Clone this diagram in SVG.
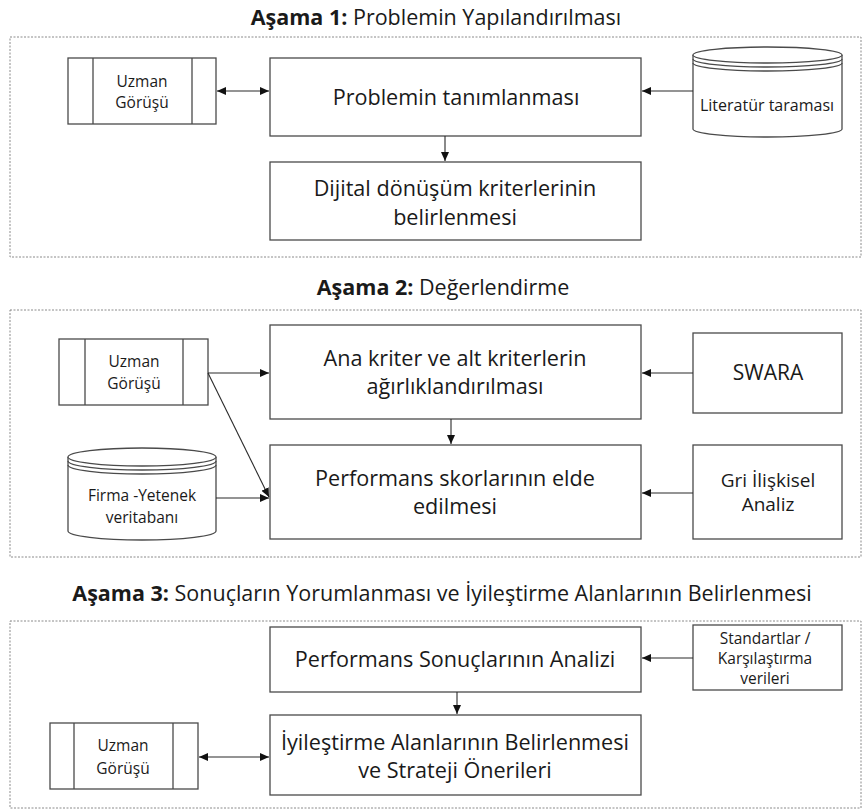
<svg xmlns="http://www.w3.org/2000/svg" width="863" height="810" viewBox="0 0 863 810">
<style>
text{font-family:"Open Sans","Noto Sans","DejaVu Sans",sans-serif;fill:#1a1a1a;text-anchor:middle}
.t{font-size:21.5px}
.b{font-weight:bold}
.m{font-size:21.6px}
.s{font-size:15.5px}
.s15{font-size:15.5px}
.box{fill:#fff;stroke:#4a4a4a;stroke-width:1.3}
.stage{fill:none;stroke:#8a8a8a;stroke-width:1;stroke-dasharray:2 1.5}
.ln{fill:none;stroke:#4a4a4a;stroke-width:1.3}
.c{fill:none;stroke:#2a2a2a;stroke-width:1.1}
</style>
<defs>
<marker id="ah" markerUnits="userSpaceOnUse" markerWidth="10" markerHeight="8" refX="9" refY="4" orient="auto-start-reverse">
<path d="M0,0 L9,4 L0,8 z" fill="#111"/>
</marker>
</defs>
<rect width="863" height="810" fill="#fff"/>

<g id="stage1">
<text class="t" x="436" y="25"><tspan class="b">Aşama 1:</tspan> Problemin Yapılandırılması</text>
<rect class="stage" x="10" y="37" width="851" height="220"/>
</g>
<g id="s1-uzman">
<rect class="box" x="68" y="58" width="148" height="66"/>
<line class="ln" x1="93" y1="58" x2="93" y2="124"/>
<line class="ln" x1="192" y1="58" x2="192" y2="124"/>
<text class="s" x="142" y="87">Uzman</text>
<text class="s" x="142" y="108">Görüşü</text>
</g>
<g id="s1-problem">
<rect class="box" x="270" y="58" width="371" height="78"/>
<text class="m" x="456" y="105">Problemin tanımlanması</text>
</g>
<g id="s1-literatur">
<path class="box" d="M693,55 L693,129 A74.5,8 0 0 0 842,129 L842,55"/>
<ellipse class="box" cx="767.5" cy="55" rx="74.5" ry="8"/>
<path class="ln" d="M693,59 A74.5,8 0 0 0 842,59"/>
<path class="ln" d="M693,63 A74.5,8 0 0 0 842,63"/>
<text class="s" x="767" y="111" style="font-size:16px">Literatür taraması</text>
</g>
<g id="s1-dijital">
<rect class="box" x="270" y="162" width="371" height="78"/>
<text class="m" x="455" y="196">Dijital dönüşüm kriterlerinin</text>
<text class="m" x="455" y="225">belirlenmesi</text>
</g>

<g id="stage2">
<text class="t" x="443" y="295"><tspan class="b">Aşama 2:</tspan> Değerlendirme</text>
<rect class="stage" x="10" y="310" width="851" height="247"/>
</g>
<g id="s2-uzman">
<rect class="box" x="59" y="339" width="149" height="66"/>
<line class="ln" x1="85" y1="339" x2="85" y2="405"/>
<line class="ln" x1="183" y1="339" x2="183" y2="405"/>
<text class="s" x="134" y="367">Uzman</text>
<text class="s" x="134" y="389">Görüşü</text>
</g>
<g id="s2-ana">
<rect class="box" x="270" y="325" width="371" height="94"/>
<text class="m" x="455" y="366">Ana kriter ve alt kriterlerin</text>
<text class="m" x="455" y="394">ağırlıklandırılması</text>
</g>
<g id="s2-swara">
<rect class="box" x="693" y="333" width="149" height="80"/>
<text class="m" x="768" y="380" style="font-size:21px">SWARA</text>
</g>
<g id="s2-performans">
<rect class="box" x="270" y="445" width="371" height="94"/>
<text class="m" x="455" y="486">Performans skorlarının elde</text>
<text class="m" x="455" y="514">edilmesi</text>
</g>
<g id="s2-gri">
<rect class="box" x="693" y="445" width="149" height="94"/>
<text class="m" x="768" y="487" style="font-size:19px">Gri İlişkisel</text>
<text class="m" x="768" y="511" style="font-size:19px">Analiz</text>
</g>
<g id="s2-firma">
<path class="box" d="M68,457 L68,531 A74,9 0 0 0 216,531 L216,457"/>
<ellipse class="box" cx="142" cy="457" rx="74" ry="9"/>
<path class="ln" d="M68,461 A74,9 0 0 0 216,461"/>
<path class="ln" d="M68,465 A74,9 0 0 0 216,465"/>
<text class="s15" x="142" y="501">Firma -Yetenek</text>
<text class="s15" x="142" y="523">veritabanı</text>
</g>

<g id="stage3">
<text class="t" x="442" y="601"><tspan class="b">Aşama 3:</tspan> Sonuçların Yorumlanması ve İyileştirme Alanlarının Belirlenmesi</text>
<rect class="stage" x="10" y="621" width="851" height="187"/>
</g>
<g id="s3-analiz">
<rect class="box" x="270" y="627" width="371" height="65"/>
<text class="m" x="455" y="667">Performans Sonuçlarının Analizi</text>
</g>
<g id="s3-standart">
<rect class="box" x="693" y="625" width="149" height="65"/>
<text class="s15" x="765" y="644">Standartlar /</text>
<text class="s15" x="765" y="664">Karşılaştırma</text>
<text class="s15" x="765" y="684">verileri</text>
</g>
<g id="s3-iyilestirme">
<rect class="box" x="270" y="715" width="371" height="80"/>
<text class="m" x="455" y="750">İyileştirme Alanlarının Belirlenmesi</text>
<text class="m" x="455" y="778">ve Strateji Önerileri</text>
</g>
<g id="s3-uzman">
<rect class="box" x="50" y="723" width="148" height="66"/>
<line class="ln" x1="74" y1="723" x2="74" y2="789"/>
<line class="ln" x1="173" y1="723" x2="173" y2="789"/>
<text class="s" x="123" y="751">Uzman</text>
<text class="s" x="123" y="774">Görüşü</text>
</g>

<g id="connectors">
<line class="c" x1="217" y1="91" x2="269" y2="91" marker-start="url(#ah)" marker-end="url(#ah)"/>
<line class="c" x1="693" y1="91" x2="642" y2="91" marker-end="url(#ah)"/>
<line class="c" x1="445" y1="136" x2="445" y2="161" marker-end="url(#ah)"/>
<line class="c" x1="208" y1="373" x2="269" y2="373" marker-end="url(#ah)"/>
<line class="c" x1="208" y1="373" x2="269" y2="497" marker-end="url(#ah)"/>
<line class="c" x1="693" y1="373" x2="642" y2="373" marker-end="url(#ah)"/>
<line class="c" x1="451" y1="419" x2="451" y2="444" marker-end="url(#ah)"/>
<line class="c" x1="693" y1="493" x2="642" y2="493" marker-end="url(#ah)"/>
<line class="c" x1="216" y1="498" x2="269" y2="498" marker-end="url(#ah)"/>
<line class="c" x1="693" y1="658" x2="642" y2="658" marker-end="url(#ah)"/>
<line class="c" x1="457" y1="692" x2="457" y2="714" marker-end="url(#ah)"/>
<line class="c" x1="199" y1="757" x2="269" y2="757" marker-start="url(#ah)" marker-end="url(#ah)"/>
</g>
</svg>
